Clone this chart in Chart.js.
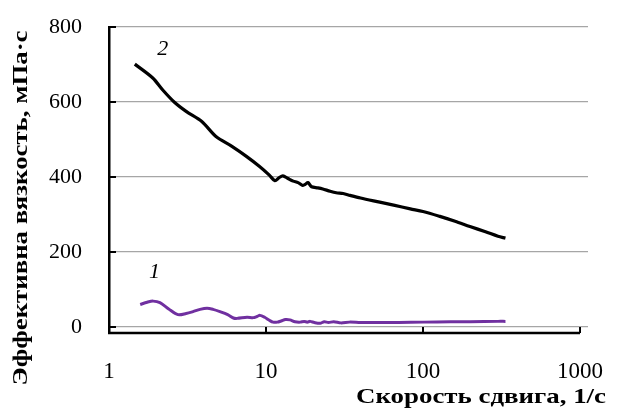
<!DOCTYPE html>
<html>
<head>
<meta charset="utf-8">
<script src="https://cdn.jsdelivr.net/npm/chart.js@4/dist/chart.umd.min.js"></script>
<style>
  html, body { margin: 0; padding: 0; background: #fff; }
  #wrap { width: 621px; height: 409px; }
</style>
</head>
<body>
<div id="wrap"><canvas id="c" width="621" height="409"></canvas></div>
<script>
// ---- data ----
const shearRate2 = [1.46, 1.9, 2.2, 2.6, 3.1, 3.9, 4.8, 6.1, 7.5, 9.1, 10.5, 11.4, 12.1, 12.8, 13.8, 14.9, 16.0, 17.0, 17.7, 18.5, 19.5, 21.4, 23, 25.6, 28, 31, 34.3, 40, 53, 65, 83, 100, 128, 160, 199, 250, 300, 335];
const viscosity2 = [701, 664, 632, 600, 575, 548, 508, 481, 455, 428, 405, 390, 398, 403, 396, 389, 385, 378, 380, 385, 374, 371, 368, 362, 358, 356, 351, 344, 333, 325, 315, 308, 295, 282, 268, 254, 242, 237];

const shearRate1 = [1.58, 1.75, 1.91, 2.11, 2.4, 2.75, 3.1, 3.43, 3.8, 4.21, 4.6, 5.09, 5.7, 6.2, 6.54, 7.57, 8.3, 8.77, 9.16, 9.8, 10.5, 11.1, 11.8, 12.5, 13.3, 14.2, 15.3, 16.5, 17.5, 18.3, 19.1, 20.3, 22.1, 23.5, 25, 27, 30, 34, 40, 50, 70, 100, 150, 200, 300, 335];
const viscosity1 = [60, 66, 69, 65, 48, 33, 36, 41, 47, 50, 47, 41, 33, 24, 23, 26, 25, 28, 31, 26, 18, 13, 13, 16, 20, 19, 14, 13, 15, 13, 15, 12, 10, 14, 12, 14, 11, 13, 12, 12, 12, 13, 14, 14, 15, 15];

const xTicks = [1, 10, 100, 1000];
const yTicks = [0, 200, 400, 600, 800];

const curveLabels = ['2', '1'];
const curveLabelX = [2.2, 1.95];
const curveLabelY = [740, 147];

const yTitle = 'Эффективна вязкость, мПа·с';
const xTitle = 'Скорость сдвига, 1/с';

const toPoints = (xs, ys) => xs.map((x, i) => ({ x: x, y: ys[i] }));

function fitText(ctx, text, cx, cy, targetW, align) {
  const w = ctx.measureText(text).width;
  const k = targetW / w;
  ctx.save();
  ctx.translate(cx, cy);
  ctx.scale(k, 1);
  ctx.textAlign = align;
  ctx.fillText(text, 0, 0);
  ctx.restore();
}

const decor = {
  id: 'decor',
  beforeDatasetsDraw(chart) {
    const { ctx, chartArea, scales } = chart;
    const xs = scales.x, ys = scales.y;
    const b = chartArea.bottom, l = chartArea.left;
    const xEnd = xs.getPixelForValue(xTicks[xTicks.length - 1]);
    ctx.save();
    ctx.strokeStyle = '#000';
    ctx.lineWidth = 2.5;
    ctx.beginPath();
    ctx.moveTo(l - 1, b);
    ctx.lineTo(xEnd, b);
    ctx.stroke();
    ctx.lineWidth = 2;
    xTicks.forEach(t => {
      const px = xs.getPixelForValue(t);
      ctx.beginPath();
      ctx.moveTo(px, b);
      ctx.lineTo(px, b - 6);
      ctx.stroke();
    });
    yTicks.forEach(t => {
      const py = ys.getPixelForValue(t);
      ctx.beginPath();
      ctx.moveTo(l, py);
      ctx.lineTo(l + 7, py);
      ctx.stroke();
    });
    ctx.restore();
  },
  afterDraw(chart) {
    const { ctx, scales } = chart;
    ctx.save();
    ctx.fillStyle = '#000';
    ctx.font = 'italic 22px "Liberation Serif"';
    ctx.textAlign = 'center';
    ctx.textBaseline = 'middle';
    curveLabels.forEach((t, i) => {
      ctx.fillText(t, scales.x.getPixelForValue(curveLabelX[i]), scales.y.getPixelForValue(curveLabelY[i]));
    });
    ctx.font = 'bold 22px "Liberation Serif"';
    // y title (rotated)
    ctx.save();
    ctx.translate(21, 208);
    ctx.rotate(-Math.PI / 2);
    fitText(ctx, yTitle, 0, 0, 355, 'center');
    ctx.restore();
    // x title
    fitText(ctx, xTitle, 606, 397, 250, 'right');
    ctx.restore();
  }
};

new Chart(document.getElementById('c'), {
  type: 'line',
  data: {
    datasets: [
      { data: toPoints(shearRate2, viscosity2), borderColor: '#000000', borderWidth: 3.2, pointRadius: 0, tension: 0.3, fill: false },
      { data: toPoints(shearRate1, viscosity1), borderColor: '#7030A0', borderWidth: 3, pointRadius: 0, tension: 0.3, fill: false }
    ]
  },
  options: {
    responsive: false,
    devicePixelRatio: 1,
    animation: false,
    layout: { padding: { left: 0, right: 33, top: 27, bottom: 0 } },
    plugins: { legend: { display: false }, tooltip: { enabled: false } },
    scales: {
      x: {
        type: 'logarithmic',
        min: 1,
        max: 1124,
        afterBuildTicks: s => { s.ticks = xTicks.map(v => ({ value: v })); },
        afterFit: s => { s.height = 76; },
        grid: { display: false, drawTicks: true, tickLength: 24, tickColor: 'rgba(0,0,0,0)' },
        border: { display: false },
        ticks: {
          color: '#000',
          padding: 1,
          maxRotation: 0,
          autoSkip: false,
          font: { family: 'Liberation Serif', size: 23 },
          callback: v => String(v)
        }
      },
      y: {
        min: -16,
        max: 800,
        afterBuildTicks: s => { s.ticks = yTicks.map(v => ({ value: v })); },
        afterFit: s => { s.width = 109; },
        grid: { color: '#a6a6a6', lineWidth: 1.2, drawTicks: true, tickLength: 26, tickColor: 'rgba(0,0,0,0)' },
        border: { display: true, color: '#000', width: 2.5 },
        ticks: {
          color: '#000',
          padding: 1,
          font: { family: 'Liberation Serif', size: 22 },
          callback: v => String(v)
        }
      }
    }
  },
  plugins: [decor]
});
</script>
</body>
</html>
